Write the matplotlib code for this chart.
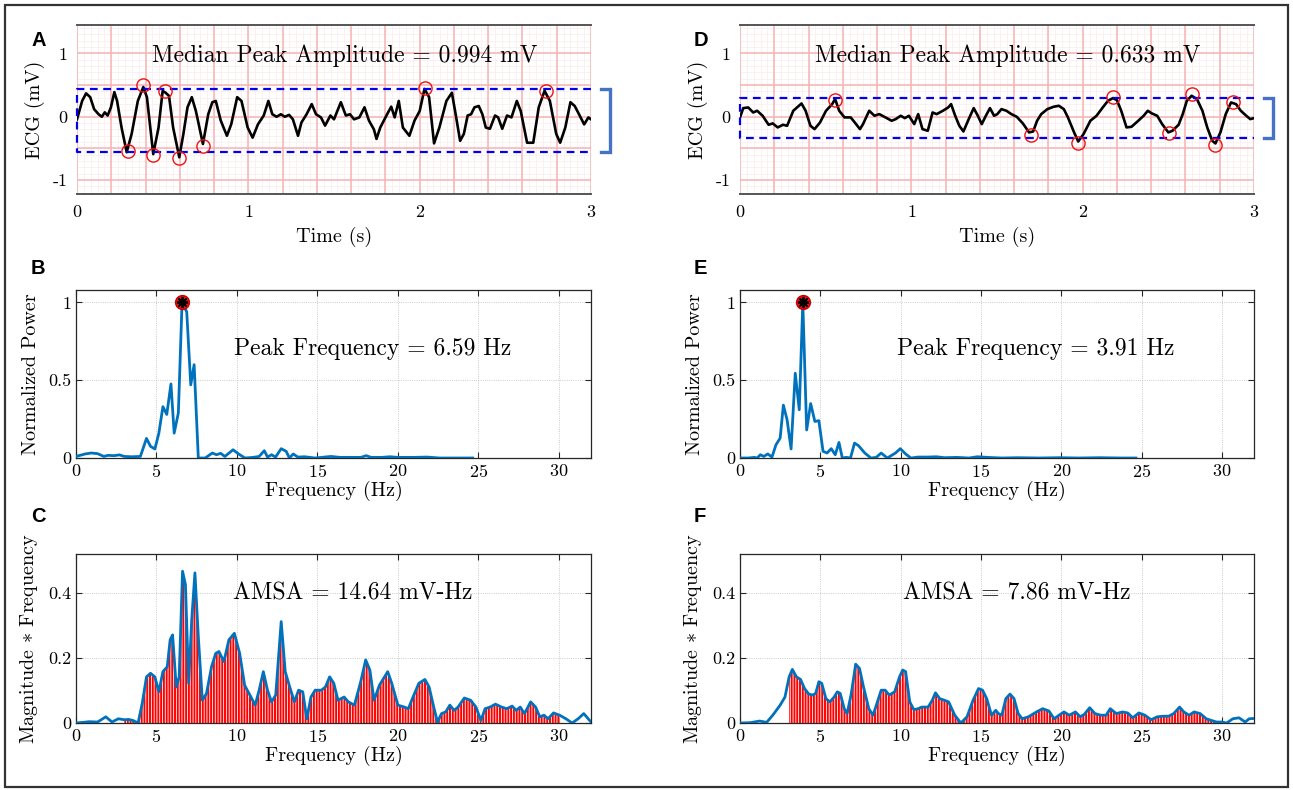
import numpy as np
import matplotlib
matplotlib.use("Agg")
import matplotlib.pyplot as plt
from matplotlib.patches import Rectangle

plt.rcParams['font.family'] = 'cmr10'
plt.rcParams['mathtext.fontset'] = 'cm'
plt.rcParams['axes.unicode_minus'] = False
plt.rcParams['axes.formatter.use_mathtext'] = True
plt.rcParams['hatch.linewidth'] = 0.6

# ---- panel A: ECG trace (s, mV) ----
ecg_a_t = [0, 0.03, 0.053, 0.077, 0.10, 0.126, 0.145, 0.162, 0.179, 0.198, 0.218, 0.234, 0.26, 0.29,
           0.319, 0.355, 0.387, 0.408, 0.445, 0.476, 0.50, 0.517, 0.537, 0.561, 0.597, 0.621, 0.645,
           0.67, 0.694, 0.735, 0.766, 0.79, 0.81, 0.839, 0.875, 0.90, 0.935, 0.96, 0.996, 1.025,
           1.056, 1.09, 1.117, 1.14, 1.165, 1.19, 1.213, 1.238, 1.26, 1.29, 1.31, 1.34, 1.37, 1.395,
           1.424, 1.448, 1.479, 1.50, 1.54, 1.569, 1.593, 1.617, 1.648, 1.678, 1.704, 1.733, 1.748,
           1.77, 1.81, 1.834, 1.854, 1.878, 1.902, 1.94, 1.97, 2.0, 2.028, 2.055, 2.084, 2.115,
           2.156, 2.188, 2.21, 2.236, 2.258, 2.28, 2.30, 2.32, 2.345, 2.366, 2.386, 2.41, 2.44,
           2.458, 2.482, 2.51, 2.536, 2.567, 2.59, 2.627, 2.663, 2.695, 2.729, 2.76, 2.797, 2.82,
           2.85, 2.88, 2.905, 2.93, 2.96, 2.985, 3.0]
ecg_a_v = [-0.04, 0.25, 0.37, 0.31, 0.12, 0.04, 0.0, 0.07, 0.02, 0.15, 0.39, 0.25, -0.17, -0.56,
           -0.27, 0.25, 0.47, 0.31, -0.59, -0.17, 0.41, 0.38, 0.33, -0.17, -0.64, -0.27, 0.15,
           0.31, 0.09, -0.43, 0.04, 0.23, 0.25, -0.06, -0.30, -0.12, 0.31, 0.25, -0.17, -0.33,
           -0.12, 0.02, 0.25, 0.04, 0.0, 0.04, 0.0, 0.03, -0.04, -0.30, -0.09, 0.04, 0.2, 0.04,
           -0.01, -0.14, 0.02, -0.04, 0.23, 0.02, 0.04, -0.04, -0.01, 0.15, -0.06, -0.2, -0.35,
           -0.17, 0.04, 0.16, -0.01, 0.25, -0.17, -0.30, -0.06, 0.09, 0.44, 0.31, -0.42, -0.17,
           0.25, 0.38, 0.04, -0.38, -0.27, 0.02, 0.04, 0.15, 0.17, 0.04, -0.17, -0.19, 0.02,
           -0.01, -0.19, 0.02, -0.01, 0.25, 0.09, -0.41, -0.41, 0.15, 0.41, 0.25, -0.27, -0.41,
           -0.17, 0.23, 0.17, 0.04, -0.12, -0.01, -0.04]
peaks_a_t = [0.295, 0.387, 0.445, 0.512, 0.597, 0.735, 2.03, 2.739]
peaks_a_v = [-0.537, 0.50, -0.60, 0.41, -0.653, -0.458, 0.453, 0.41]
band_a = (-0.554, 0.44)
amp_a = 0.994

# ---- panel D: ECG trace ----
ecg_d_t = [0, 0.019, 0.048, 0.077, 0.10, 0.132, 0.167, 0.191, 0.22, 0.251, 0.275, 0.311, 0.359,
           0.383, 0.411, 0.435, 0.467, 0.502, 0.538, 0.555, 0.579, 0.61, 0.646, 0.67, 0.70, 0.718,
           0.754, 0.785, 0.813, 0.849, 0.885, 0.909, 0.938, 0.962, 0.986, 1.017, 1.04, 1.065,
           1.096, 1.124, 1.148, 1.184, 1.215, 1.232, 1.256, 1.28, 1.304, 1.335, 1.364, 1.388,
           1.411, 1.435, 1.459, 1.483, 1.502, 1.526, 1.555, 1.584, 1.615, 1.651, 1.687, 1.711,
           1.734, 1.758, 1.794, 1.83, 1.861, 1.89, 1.914, 1.95, 1.974, 2.005, 2.045, 2.081, 2.117,
           2.148, 2.177, 2.2, 2.225, 2.256, 2.285, 2.32, 2.356, 2.38, 2.404, 2.435, 2.464, 2.5,
           2.524, 2.56, 2.584, 2.608, 2.636, 2.667, 2.699, 2.727, 2.756, 2.775, 2.804, 2.835,
           2.866, 2.895, 2.923, 2.955, 2.978, 3.0]
ecg_d_v = [-0.01, 0.137, 0.147, 0.068, 0.095, 0.016, -0.126, -0.105, -0.168, -0.126, -0.142, 0.095,
           0.21, 0.095, -0.142, -0.195, -0.09, 0.095, 0.2, 0.28, 0.095, -0.01, -0.01, -0.09,
           -0.195, -0.116, 0.095, 0.016, 0.042, -0.01, -0.063, -0.037, 0.016, -0.021, 0.016,
           -0.116, 0.042, -0.195, -0.221, 0.068, 0.042, 0.095, 0.147, 0.2, 0.016, -0.142, -0.232,
           -0.037, 0.137, 0.016, -0.116, 0.016, 0.137, 0.016, 0.042, 0.121, 0.095, 0.042, 0.0,
           -0.105, -0.247, -0.232, -0.063, 0.042, 0.121, 0.158, 0.174, 0.121, -0.01, -0.247,
           -0.39, -0.274, -0.063, 0.016, 0.147, 0.253, 0.295, 0.263, 0.095, -0.168, -0.158,
           -0.074, 0.016, 0.095, 0.053, 0.016, -0.116, -0.247, -0.221, -0.126, 0.042, 0.253,
           0.332, 0.279, 0.095, -0.168, -0.379, -0.421, -0.247, 0.042, 0.226, 0.2, 0.095, 0.016,
           -0.037, -0.021]
peaks_d_t = [0.555, 1.699, 1.974, 2.177, 2.502, 2.636, 2.775, 2.876]
peaks_d_v = [0.263, -0.29, -0.416, 0.316, -0.263, 0.358, -0.447, 0.237]
band_d = (-0.337, 0.296)
amp_d = 0.633

# ---- panel B: normalized power spectrum ----
psd_b_f = [0, 0.57, 0.95, 1.34, 1.73, 1.98, 2.37, 2.7, 3.0, 3.5, 4.0, 4.38, 4.63, 4.9, 5.15, 5.4,
           5.64, 5.9, 6.1, 6.36, 6.59, 6.88, 7.13, 7.34, 7.6, 8.03, 8.47, 8.73, 8.99, 9.25, 9.76,
           10.1, 10.5, 11.0, 11.38, 11.7, 11.9, 12.15, 12.4, 12.75, 13.06, 13.26, 13.5, 13.78,
           14.2, 14.86, 15.84, 16.4, 17.05, 17.7, 18.03, 18.34, 19.0, 19.5, 20.0, 21.04, 21.8,
           22.6, 23.6, 24.65]
psd_b_p = [0.01, 0.026, 0.032, 0.028, 0.01, 0.017, 0.015, 0.02, 0.01, 0.008, 0.01, 0.126, 0.075,
           0.058, 0.16, 0.33, 0.28, 0.476, 0.16, 0.29, 1.0, 0.94, 0.47, 0.6, 0.0, 0.0, 0.032,
           0.021, 0.03, 0.01, 0.053, 0.026, 0.0, 0.004, 0.01, 0.047, 0.006, 0.021, 0.006, 0.06,
           0.043, 0.0, 0.026, 0.006, 0.008, 0.0, 0.01, 0.004, 0.004, 0.004, 0.015, 0.004, 0.004,
           0.008, 0.004, 0.004, 0.006, 0.0, 0.0, 0.0]
peak_b = 6.59

# ---- panel E: normalized power spectrum ----
psd_e_f = [0, 0.51, 0.89, 1.07, 1.27, 1.48, 1.73, 1.99, 2.24, 2.5, 2.7, 2.93, 3.18, 3.44, 3.69,
           3.91, 4.15, 4.4, 4.66, 4.91, 5.17, 5.42, 5.68, 5.93, 6.16, 6.37, 6.62, 6.88, 7.13,
           7.38, 7.77, 8.15, 8.48, 8.79, 9.17, 9.68, 9.98, 10.31, 10.64, 11.08, 11.71, 12.22,
           12.73, 13.5, 14.26, 14.77, 15.4, 16.3, 17.3, 18.6, 19.86, 21.1, 22.4, 23.7, 24.65]
psd_e_p = [0, 0, 0.004, 0, 0.021, 0.01, 0.026, 0.006, 0.085, 0.128, 0.34, 0.246, 0.058, 0.545,
           0.31, 1.0, 0.18, 0.35, 0.235, 0.24, 0.043, 0.032, 0.06, 0.021, 0.1, 0, 0.004, 0,
           0.096, 0.079, 0.032, 0, 0.004, 0.032, 0, 0.032, 0.06, 0.026, 0, 0.006, 0.006, 0.008,
           0.002, 0.004, 0, 0.008, 0.004, 0, 0.002, 0, 0.002, 0, 0.002, 0, 0]
peak_e = 3.91

# ---- panel C: magnitude * frequency ----
amsa_c_f = [0, 0.44, 0.82, 1.34, 1.85, 2.24, 2.63, 3.0, 3.27, 3.53, 3.86, 4.12, 4.38, 4.63, 4.9,
            5.15, 5.4, 5.67, 5.85, 6.0, 6.23, 6.41, 6.62, 6.8, 7.0, 7.19, 7.39, 7.6, 7.85, 8.11,
            8.42, 8.68, 8.88, 9.19, 9.5, 9.84, 10.17, 10.48, 10.87, 11.13, 11.38, 11.64, 11.9,
            12.15, 12.41, 12.75, 13.0, 13.31, 13.57, 13.83, 14.09, 14.34, 14.6, 14.86, 15.25,
            15.5, 15.76, 16.02, 16.28, 16.66, 16.92, 17.3, 17.69, 18.0, 18.26, 18.52, 18.85,
            19.37, 19.62, 20.0, 20.4, 20.65, 20.9, 21.3, 21.68, 21.94, 22.2, 22.46, 22.71, 22.97,
            23.23, 23.49, 23.74, 24.13, 24.52, 24.85, 25.16, 25.42, 25.73, 26.06, 26.45, 26.76,
            27.1, 27.35, 27.6, 27.87, 28.25, 28.56, 28.82, 29.08, 29.33, 29.67, 30.05, 30.44,
            30.83, 31.2, 31.55, 32.0]
amsa_c_m = [0, 0.002, 0.004, 0.003, 0.019, 0.003, 0.013, 0.01, 0.011, 0.008, 0, 0.062, 0.142,
            0.153, 0.142, 0.096, 0.158, 0.173, 0.256, 0.271, 0.111, 0.142, 0.467, 0.426, 0.122,
            0.318, 0.462, 0.266, 0.07, 0.091, 0.173, 0.214, 0.22, 0.189, 0.256, 0.276, 0.214,
            0.116, 0.08, 0.055, 0.101, 0.158, 0.101, 0.065, 0.086, 0.312, 0.158, 0.106, 0.065,
            0.101, 0.096, 0.013, 0.08, 0.101, 0.101, 0.111, 0.142, 0.122, 0.07, 0.08, 0.065,
            0.055, 0.127, 0.194, 0.163, 0.07, 0.116, 0.158, 0.122, 0.055, 0.049, 0.044, 0.075,
            0.122, 0.134, 0.111, 0.055, 0.003, 0.029, 0.034, 0.055, 0.039, 0.049, 0.077, 0.07,
            0.049, 0.008, 0.044, 0.049, 0.058, 0.049, 0.044, 0.052, 0.039, 0.049, 0.029, 0.065,
            0.049, 0.019, 0.024, 0.013, 0.031, 0.024, 0.013, 0, 0.013, 0.029, 0.003]
amsa_c = 14.64

# ---- panel F: magnitude * frequency ----
amsa_f_f = [0, 0.64, 1.22, 1.66, 2.04, 2.5, 2.8, 3.06, 3.26, 3.51, 3.77, 4.02, 4.28, 4.53, 4.71,
            4.91, 5.09, 5.35, 5.6, 5.86, 6.06, 6.24, 6.49, 6.67, 6.93, 7.2, 7.44, 7.69, 8.02,
            8.28, 8.45, 8.79, 9.04, 9.29, 9.63, 9.93, 10.13, 10.31, 10.57, 10.82, 11.08, 11.33,
            11.71, 11.97, 12.17, 12.43, 12.73, 12.99, 13.37, 13.75, 14.13, 14.51, 14.85, 15.1,
            15.36, 15.66, 15.92, 16.09, 16.3, 16.55, 16.81, 17.06, 17.32, 17.57, 17.95, 18.46,
            18.84, 19.23, 19.56, 19.86, 20.17, 20.5, 20.88, 21.19, 21.44, 21.77, 22.1, 22.46,
            22.79, 23.05, 23.43, 23.81, 24.14, 24.45, 24.83, 25.21, 25.59, 25.97, 26.36, 26.69,
            27.0, 27.37, 27.63, 27.96, 28.27, 28.65, 29.03, 29.34, 29.67, 30.0, 30.3, 30.68,
            31.07, 31.45, 31.7, 32.0]
amsa_f_m = [0, 0.001, 0.006, 0.002, 0.024, 0.055, 0.08, 0.142, 0.165, 0.142, 0.134, 0.106, 0.089,
            0.086, 0.091, 0.127, 0.122, 0.075, 0.065, 0.08, 0.096, 0.091, 0.044, 0.029, 0.091,
            0.181, 0.168, 0.111, 0.044, 0.024, 0.049, 0.101, 0.101, 0.086, 0.096, 0.142, 0.163,
            0.158, 0.065, 0.041, 0.044, 0.049, 0.049, 0.07, 0.093, 0.075, 0.07, 0.065, 0.024, 0,
            0.019, 0.07, 0.106, 0.101, 0.075, 0.024, 0.039, 0.029, 0.024, 0.075, 0.089, 0.075,
            0.029, 0.013, 0.019, 0.034, 0.044, 0.037, 0.013, 0.024, 0.034, 0.024, 0.034, 0.019,
            0.027, 0.047, 0.029, 0.024, 0.024, 0.044, 0.029, 0.034, 0.031, 0.016, 0.031, 0.024,
            0.01, 0.019, 0.021, 0.021, 0.029, 0.049, 0.034, 0.024, 0.034, 0.029, 0.013, 0.008,
            0.003, 0.003, 0, 0.013, 0.016, 0.003, 0.013, 0.014]
amsa_f = 7.86

band_limits = (3.0, 30.0)

W, H = 1293, 790
fig = plt.figure(figsize=(W / 100, H / 100), dpi=100)
fig.patches.append(Rectangle((5 / W, 3 / H), 1283 / W, 782 / H, transform=fig.transFigure,
                             fill=False, edgecolor='#333333', linewidth=1.6))

DARK = '#262626'
BLUE = '#0072BD'
FS_TICK = 13
FS_LAB = 14.5
FS_TXT = 17


def px_axes(left, top, right, bottom):
    return fig.add_axes([left / W, 1 - bottom / H, (right - left) / W, (bottom - top) / H])


def panel_letter(letter, x, y):
    fig.text(x / W, 1 - y / H, letter, fontsize=14.5, fontweight='bold',
             family='Liberation Sans', va='center', ha='left')


def ecg_panel(ax, t, v, pt, pv, band, amp):
    ax.set_xlim(0, 3)
    ax.set_ylim(-1.22, 1.45)
    for x in np.arange(0, 3.001, 0.04):
        ax.axvline(x, color='#FCEBEB', lw=0.5, zorder=0)
    for y in np.arange(-1.2, 1.45, 0.1):
        ax.axhline(y, color='#FCEBEB', lw=0.5, zorder=0)
    for x in np.arange(0, 3.001, 0.2):
        ax.axvline(x, color='#F6B3B3', lw=1.1, zorder=1)
    for y in np.arange(-1.0, 1.01, 0.5):
        ax.axhline(y, color='#F6B3B3', lw=1.1, zorder=1)
    ax.plot(t, v, color='black', lw=1.9, zorder=3, solid_joinstyle='round')
    lo, hi = band
    ax.plot([3, 0, 0, 3], [hi, hi, lo, lo], color='#0000EE', lw=1.6, ls=(0, (3.5, 2.5)),
            zorder=4, clip_on=False)
    ax.plot(pt, pv, 'o', ms=9.5, mfc='none', mec='#EE1111', mew=1.0, zorder=5)
    ax.plot([3.06, 3.11, 3.11, 3.06], [hi, hi, lo, lo], color='#4472C4', lw=2.4,
            clip_on=False, solid_joinstyle='miter')
    ax.text(1.56, 0.97, 'Median Peak Amplitude = %.3f mV' % amp, ha='center', va='center',
            fontsize=FS_TXT)
    ax.set_xticks([0, 1, 2, 3])
    ax.set_yticks([-1, 0, 1])
    ax.set_yticklabels(['-1', '0', '1'])
    ax.tick_params(length=0, labelsize=FS_TICK, pad=7)
    for s in ['left', 'right']:
        ax.spines[s].set_visible(False)
    for s in ['top', 'bottom']:
        ax.spines[s].set_color('#555555')
        ax.spines[s].set_linewidth(1.4)
    ax.set_xlabel('Time (s)', fontsize=FS_LAB, labelpad=5)
    ax.set_ylabel('ECG (mV)', fontsize=FS_LAB, labelpad=5)


def matlab_axes(ax):
    ax.set_xlim(0, 32)
    ax.set_xticks(range(0, 31, 5))
    ax.grid(True, color='#BBBBBB', lw=0.6, ls=':')
    ax.set_axisbelow(True)
    ax.tick_params(direction='in', top=True, right=True, length=4, width=0.8, color=DARK,
                   labelsize=FS_TICK)
    for s in ax.spines.values():
        s.set_color(DARK)
        s.set_linewidth(0.9)
    ax.set_xlabel('Frequency (Hz)', fontsize=FS_LAB, labelpad=1)


def psd_panel(ax, f, p, peak):
    matlab_axes(ax)
    ax.set_ylim(0, 1.08)
    ax.set_yticks([0, 0.5, 1])
    ax.set_yticklabels(['0', '0.5', '1'])
    ax.plot(f, p, color=BLUE, lw=2.0, zorder=3)
    ax.plot([peak], [1.0], 'o', ms=10, mfc='#EE1111', mec='#CC0000', zorder=4)
    ax.plot([peak], [1.0], marker=(8, 2, 0), ms=8, color='black', mew=1.3, zorder=5)
    ax.text(18.4, 0.70, 'Peak Frequency = %.2f Hz' % peak, ha='center', va='center',
            fontsize=FS_TXT)
    ax.set_ylabel('Normalized Power', fontsize=FS_LAB, labelpad=6)


def amsa_panel(ax, f, m, amsa):
    matlab_axes(ax)
    ax.set_ylim(0, 0.52)
    ax.set_yticks([0, 0.2, 0.4])
    ax.set_yticklabels(['0', '0.2', '0.4'])
    f = np.array(f)
    m = np.array(m)
    sel = (f >= band_limits[0]) & (f <= band_limits[1] + 0.06)
    ax.fill_between(f, 0, m, where=sel, facecolor='#FF0000', edgecolor='white', hatch='||||||',
                    linewidth=0, zorder=2)
    ax.plot(f, m, color=BLUE, lw=2.0, zorder=3)
    ax.text(17.2, 0.40, 'AMSA = %.2f mV-Hz' % amsa, ha='center', va='center', fontsize=FS_TXT)
    ax.set_ylabel('Magnitude $\\ast$ Frequency', fontsize=FS_LAB, labelpad=6)


ax_a = px_axes(77, 25, 591, 194)
ax_d = px_axes(740, 25, 1254, 194)
ax_b = px_axes(76, 290, 591, 458)
ax_e = px_axes(740, 290, 1254, 458)
ax_c = px_axes(76, 554, 591, 723)
ax_f = px_axes(740, 554, 1254, 723)

ecg_panel(ax_a, ecg_a_t, ecg_a_v, peaks_a_t, peaks_a_v, band_a, amp_a)
ecg_panel(ax_d, ecg_d_t, ecg_d_v, peaks_d_t, peaks_d_v, band_d, amp_d)
psd_panel(ax_b, psd_b_f, psd_b_p, peak_b)
psd_panel(ax_e, psd_e_f, psd_e_p, peak_e)
amsa_panel(ax_c, amsa_c_f, amsa_c_m, amsa_c)
amsa_panel(ax_f, amsa_f_f, amsa_f_m, amsa_f)

panel_letter('A', 31, 40)
panel_letter('B', 31, 269)
panel_letter('C', 31, 516)
panel_letter('D', 694, 40)
panel_letter('E', 694, 269)
panel_letter('F', 694, 516)

fig.savefig('out.png', dpi=100)
